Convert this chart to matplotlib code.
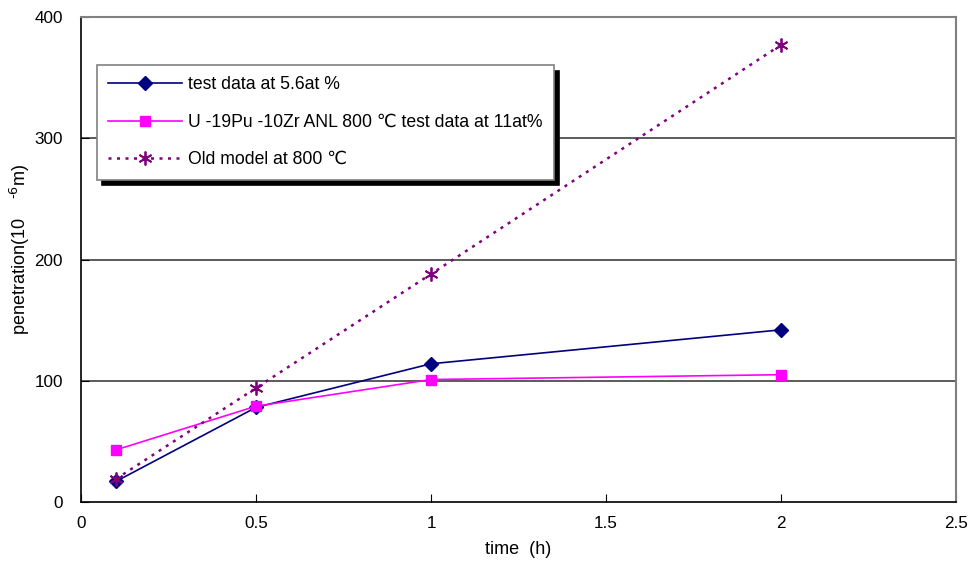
import numpy as np
import matplotlib
matplotlib.use("Agg")
import matplotlib.pyplot as plt

plt.rcParams['font.family'] = ['Liberation Sans', 'DejaVu Sans']

# 数据
time_h = [0.1, 0.5, 1.0, 2.0]
test_56 = [17, 78, 114, 142]
anl_11 = [43, 79, 101, 105]
old_model = [19, 94, 188, 377]

x_ticks = [0, 0.5, 1, 1.5, 2, 2.5]
y_ticks = [0, 100, 200, 300, 400]

fig = plt.figure(figsize=(9.74, 5.74), dpi=100)
ax = fig.add_axes([81/974, 1 - 502/574, 875/974, 485/574])

ax.plot(time_h, test_56, color='#000080', lw=1.2, marker='D', ms=7,
        label='test data at 5.6at %', zorder=3)
ax.plot(time_h, anl_11, color='#FF00FF', lw=1.2, marker='s', ms=7,
        label='U -19Pu -10Zr ANL 800 \u2103 test data at 11at%', zorder=3)
ax.plot(time_h, old_model, color='#800080', lw=1.8, ls=(0, (1.2, 2.2)),
        marker=(6, 2, 0), ms=10, mew=1.3, label='Old model at 800 \u2103', zorder=4)

ax.set_xlim(0, 2.5)
ax.set_ylim(0, 400)
ax.set_xticks(x_ticks)
ax.set_xticklabels(['0', '0.5', '1', '1.5', '2', '2.5'])
ax.set_yticks(y_ticks)
ax.tick_params(direction='in', length=6, labelsize=12.3, pad=10, color='black')
ax.tick_params(axis='y', pad=13)

# 网格线
for y in [100, 200, 300]:
    ax.axhline(y, color='#404040', lw=1.2, zorder=1)

for s in ['top', 'right']:
    ax.spines[s].set_color('#808080')
    ax.spines[s].set_linewidth(1.5)
for s in ['left', 'bottom']:
    ax.spines[s].set_color('black')
    ax.spines[s].set_linewidth(1.2)

ax.set_xlabel('time  (h)', fontsize=13, labelpad=7)
ax.set_ylabel(r'penetration(10    $^{\text{-6}}$m)', fontsize=13)
ax.yaxis.set_label_coords(-0.056, 0.52)

leg = ax.legend(loc='upper left', bbox_to_anchor=(0.018, 0.901), fontsize=12.7,
                handlelength=4.2, labelspacing=1.15, borderpad=0.65,
                handletextpad=0.3, fancybox=False, framealpha=1,
                edgecolor='#808080', borderaxespad=0,
                shadow={'color': 'black', 'alpha': 1, 'ox': 4, 'oy': -4})
leg.get_frame().set_linewidth(1.2)

fig.savefig('out.png', dpi=100)
